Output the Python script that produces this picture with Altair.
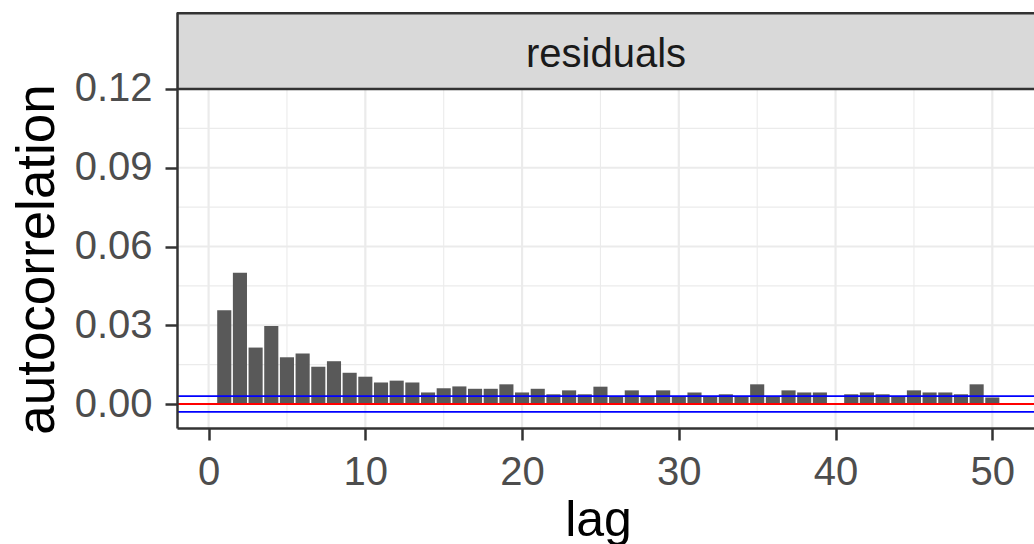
import altair as alt
import pandas as pd

# Autocorrelation of the residuals, lags 1..50
lags = list(range(1, 51))
acf_values = [
    0.0357, 0.0500, 0.0215, 0.0297, 0.0178, 0.0192, 0.0142, 0.0163, 0.0119, 0.0104,
    0.0082, 0.0089, 0.0082, 0.0044, 0.0060, 0.0067, 0.0058, 0.0058, 0.0075, 0.0044,
    0.0058, 0.0037, 0.0052, 0.0037, 0.0066, 0.0027, 0.0052, 0.0027, 0.0052, 0.0027,
    0.0044, 0.0027, 0.0037, 0.0027, 0.0075, 0.0027, 0.0052, 0.0044, 0.0044, 0.0003,
    0.0037, 0.0044, 0.0037, 0.0028, 0.0052, 0.0044, 0.0044, 0.0037, 0.0075, 0.0025,
]
conf_bound = 0.003          # +/- significance band
zero_level = 0.0

x_ticks = [0, 10, 20, 30, 40, 50]
x_minor = [5, 15, 25, 35, 45]
y_ticks = [0.0, 0.03, 0.06, 0.09, 0.12]
y_grid_major = [0.0, 0.03, 0.06, 0.09]
y_minor = [0.015, 0.045, 0.075, 0.105]
strip_label = "residuals"

FONT = "Liberation Sans"
W, H = 857, 416          # plot area including the facet strip on top
STRIP_H = 77

bar_df = pd.DataFrame({"lag": lags, "acf": acf_values})
bar_df["lo"] = bar_df["lag"] - 0.45
bar_df["hi"] = bar_df["lag"] + 0.45
bar_df["base"] = 0.0

xs = alt.Scale(domain=[-2.015, 52.66], nice=False, zero=False)
ys = alt.Scale(domain=[-0.00914, 0.14933], nice=False, zero=False)

x_axis = alt.Axis(
    title="lag",
    values=x_ticks,
    format="d",
    grid=False,
    labelFontSize=40,
    labelColor="#4D4D4D",
    labelPadding=12,
    tickColor="#333333",
    tickSize=12,
    tickWidth=2.5,
    domainColor="#333333",
    domainWidth=2.5,
    titleFontSize=50,
    titleFontWeight="normal",
    titleColor="#000000",
    titleBaseline="alphabetic",
    titleAlign="center",
    titleX=421,
    titleY=107,
    zindex=1,
)

y_axis = alt.Axis(
    title="autocorrelation",
    values=y_ticks,
    format=".2f",
    grid=False,
    labelFontSize=40,
    labelColor="#4D4D4D",
    labelPadding=13,
    tickColor="#333333",
    tickSize=12,
    tickWidth=2.5,
    domainColor="#333333",
    domainWidth=2.5,
    titleFontSize=53,
    titleFontWeight="normal",
    titleColor="#000000",
    titleAngle=270,
    titleBaseline="alphabetic",
    titleAlign="center",
    titleX=-124,
    titleY=247,
    zindex=1,
)

one = pd.DataFrame({"label": [strip_label]})

grid_x_major = alt.Chart(pd.DataFrame({"lo": x_ticks})).mark_rule(
    color="#EBEBEB", strokeWidth=2.2
).encode(x=alt.X("lo:Q", scale=xs, axis=x_axis), y=alt.value(STRIP_H), y2=alt.value(H))

grid_x_minor = alt.Chart(pd.DataFrame({"lo": x_minor})).mark_rule(
    color="#EBEBEB", strokeWidth=1.1
).encode(x=alt.X("lo:Q", scale=xs, axis=x_axis), y=alt.value(STRIP_H), y2=alt.value(H))

grid_y_major = alt.Chart(pd.DataFrame({"acf": y_grid_major})).mark_rule(
    color="#EBEBEB", strokeWidth=2.2
).encode(y=alt.Y("acf:Q", scale=ys, axis=y_axis), x=alt.value(0), x2=alt.value(W))

grid_y_minor = alt.Chart(pd.DataFrame({"acf": y_minor})).mark_rule(
    color="#EBEBEB", strokeWidth=1.1
).encode(y=alt.Y("acf:Q", scale=ys, axis=y_axis), x=alt.value(0), x2=alt.value(W))

bars = alt.Chart(bar_df).mark_rect(color="#595959").encode(
    x=alt.X("lo:Q", scale=xs, axis=x_axis),
    x2="hi:Q",
    y=alt.Y("acf:Q", scale=ys, axis=y_axis),
    y2="base:Q",
)

band = alt.Chart(pd.DataFrame({"acf": [conf_bound, -conf_bound]})).mark_rule(
    color="#0000FF", strokeWidth=1.6
).encode(y=alt.Y("acf:Q", scale=ys, axis=y_axis), x=alt.value(0), x2=alt.value(W))

zero_line = alt.Chart(pd.DataFrame({"acf": [zero_level]})).mark_rule(
    color="#FF0000", strokeWidth=1.8
).encode(y=alt.Y("acf:Q", scale=ys, axis=y_axis), x=alt.value(0), x2=alt.value(W))

strip = alt.Chart(one).mark_rect(
    fill="#D9D9D9", stroke="#333333", strokeWidth=2.5, clip=True
).encode(x=alt.value(0), x2=alt.value(W + 30), y=alt.value(1.2), y2=alt.value(STRIP_H))

strip_text = alt.Chart(one).mark_text(
    font=FONT, fontSize=40, color="#1A1A1A", baseline="alphabetic", align="center"
).encode(text="label:N", x=alt.value(429), y=alt.value(55))

chart = alt.layer(
    grid_x_minor, grid_y_minor, grid_x_major, grid_y_major,
    bars, band, zero_line, strip, strip_text,
).properties(
    width=W,
    height=H,
    background="white",
    autosize=alt.AutoSizeParams(type="none"),
    padding={"left": 177, "top": 12, "right": 0, "bottom": 116},
).configure_view(
    stroke="transparent"
).configure_axis(
    labelFont=FONT, titleFont=FONT
)

chart.save("out.html", embed_options={"renderer": "svg", "actions": False})
